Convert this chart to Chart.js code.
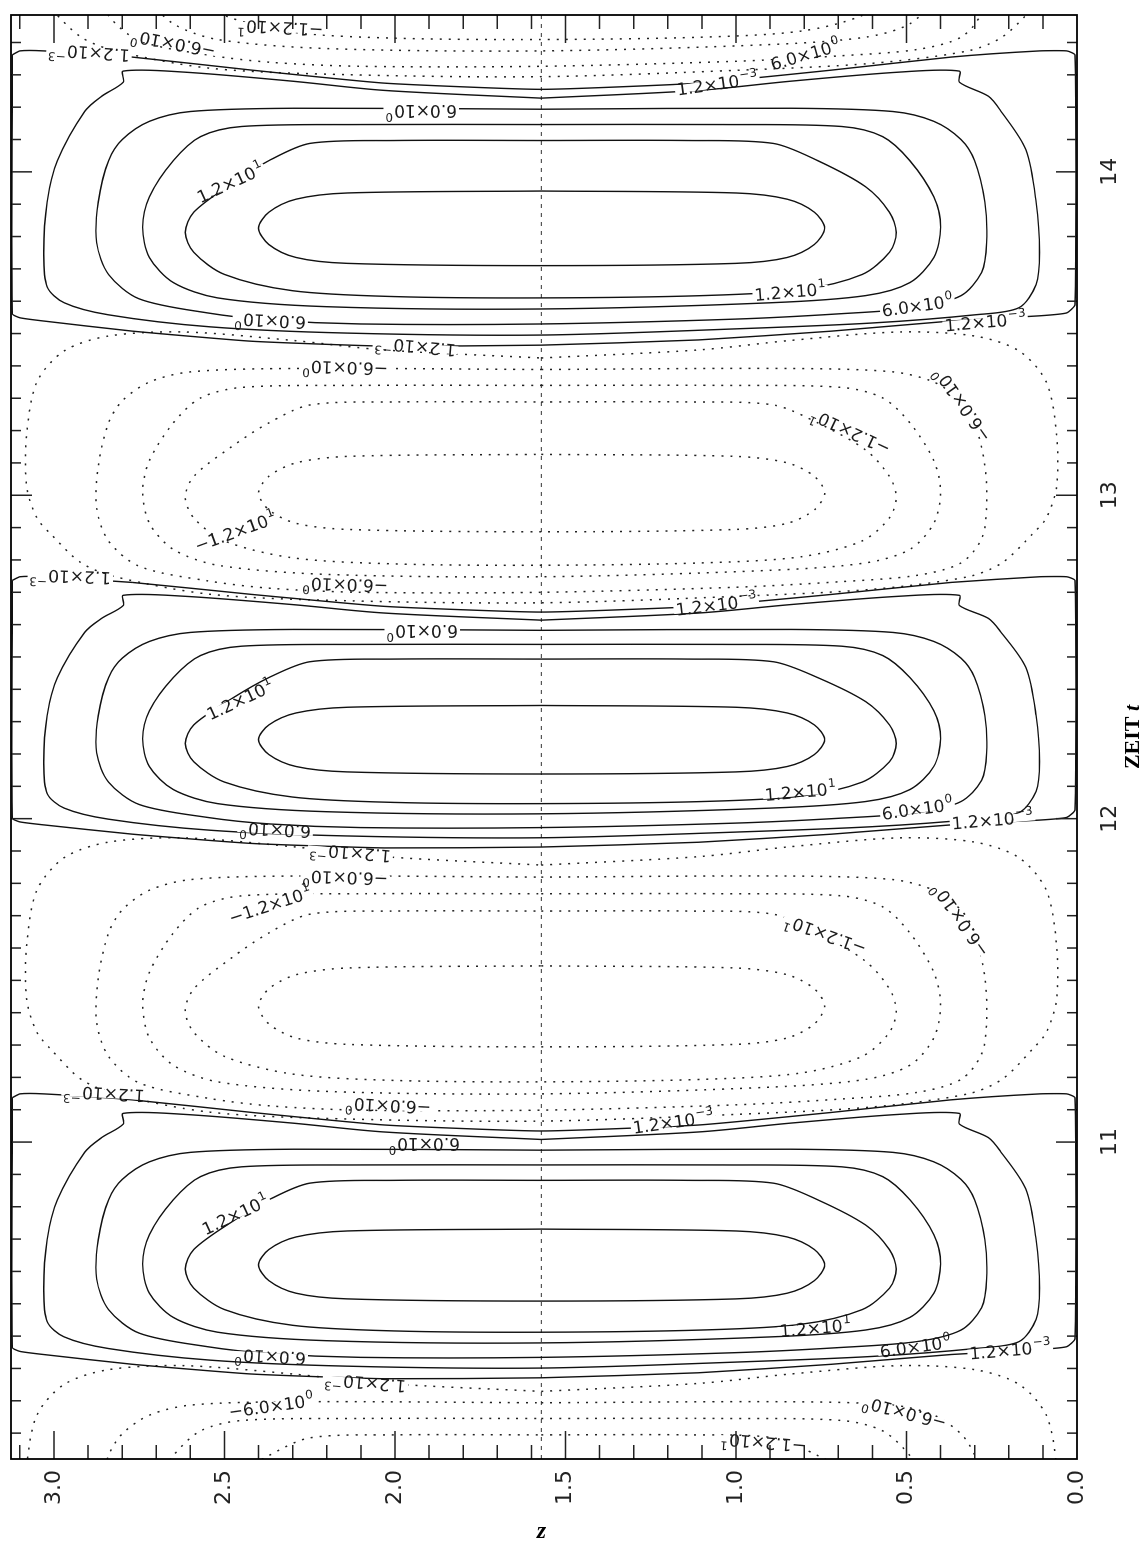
<!DOCTYPE html>
<html>
<head>
<meta charset="utf-8">
<script src="https://cdn.jsdelivr.net/npm/chart.js@4.4.1/dist/chart.umd.min.js"></script>
<style>
  html, body { margin: 0; padding: 0; background: #fff; overflow: hidden; }
  body { width: 1148px; height: 1544px; position: relative; }
  /* the plot is drawn as an ordinary t / z chart and turned a quarter turn, like the printed page */
  #plot { position: absolute; left: 0; top: 0; width: 1544px; height: 1148px;
          transform-origin: 0 0; transform: translate(0, 1544px) rotate(-90deg); }
</style>
</head>
<body>
<div id="plot"><canvas id="chart" width="1544" height="1148"></canvas></div>
<script>
/* ============ data ============ */
var tRange = [10.02, 14.485];
var zRange = [0, 3.126];
var tMajorTicks = [11, 12, 13, 14];
var zMajorTicks = [0, 0.5, 1.0, 1.5, 2.0, 2.5, 3.0];
var zMid = 1.5708;

// t at the upper and lower frame corners of each positive (solid) and negative (dotted) cell
var solidCellTop = [14.374, 12.748, 11.149];
var solidCellBottom = [13.576, 12.015, 10.379];
var dottedCellTop = [15.194, 13.576, 12.015, 10.379];
var dottedCellBottom = [14.374, 12.748, 11.149, 9.560];
var cellSpan = 0.792; // corner-to-corner height the ring tables below are read at

// contour rings of one cell as [z, distance in t below the upper corner]
var ring0 = [[3.122,0.012],[3.10,0],[3.03,0],[2.77,0.019],[2.42,0.059],[2.03,0.099],[1.571,0.118],[1.11,0.099],[0.72,0.059],[0.37,0.019],[0.11,0],[0.03,0],[0.006,0.012],[0.006,0.779],[0.03,0.804],[0.11,0.813],[0.37,0.829],[0.72,0.860],[1.11,0.887],[1.571,0.903],[2.03,0.906],[2.42,0.891],[2.77,0.860],[3.03,0.829],[3.10,0.819],[3.122,0.807],[3.122,0.012]];
var ring1 = [[1.571,0.145],[1.108,0.121],[0.84,0.093],[0.52,0.065],[0.345,0.062],[0.345,0.096],[0.26,0.139],[0.225,0.182],[0.15,0.303],[0.12,0.464],[0.11,0.618],[0.12,0.717],[0.17,0.788],[0.30,0.810],[0.60,0.835],[1.0,0.853],[1.571,0.872],[2.14,0.866],[2.54,0.847],[2.84,0.810],[2.97,0.773],[3.02,0.724],[3.03,0.618],[3.02,0.464],[2.99,0.337],[2.91,0.186],[2.86,0.139],[2.797,0.096],[2.797,0.062],[2.62,0.065],[2.30,0.093],[2.034,0.121],[1.571,0.145]];
var ring2 = [[1.571,0.179],[0.84,0.176],[0.54,0.186],[0.42,0.216],[0.34,0.272],[0.30,0.337],[0.27,0.464],[0.265,0.588],[0.28,0.680],[0.34,0.751],[0.47,0.788],[0.70,0.807],[1.0,0.823],[1.571,0.838],[2.1,0.838],[2.366,0.826],[2.55,0.804],[2.75,0.761],[2.84,0.686],[2.875,0.588],[2.87,0.464],[2.84,0.337],[2.80,0.272],[2.72,0.216],[2.60,0.186],[2.30,0.176],[1.571,0.179]];
var ring3 = [[1.571,0.226],[1.04,0.226],[0.69,0.232],[0.57,0.263],[0.49,0.337],[0.42,0.448],[0.40,0.541],[0.42,0.634],[0.49,0.711],[0.62,0.751],[0.9,0.773],[1.571,0.792],[2.2,0.785],[2.52,0.758],[2.65,0.711],[2.72,0.634],[2.74,0.541],[2.72,0.448],[2.65,0.337],[2.57,0.263],[2.45,0.232],[2.1,0.226],[1.571,0.226]];
var ring4 = [[1.571,0.275],[1.14,0.275],[0.89,0.284],[0.76,0.337],[0.62,0.417],[0.55,0.495],[0.53,0.557],[0.55,0.618],[0.63,0.686],[0.81,0.733],[1.1,0.751],[1.571,0.758],[2.0,0.754],[2.3,0.736],[2.5,0.686],[2.59,0.618],[2.615,0.557],[2.59,0.495],[2.48,0.408],[2.37,0.337],[2.25,0.284],[2.0,0.275],[1.571,0.275]];
var ring5 = [[1.571,0.430],[1.0,0.436],[0.85,0.455],[0.77,0.495],[0.74,0.544],[0.77,0.594],[0.85,0.634],[1.0,0.652],[1.571,0.659],[2.14,0.652],[2.29,0.634],[2.37,0.594],[2.40,0.544],[2.37,0.495],[2.29,0.455],[2.14,0.436],[1.571,0.430]];
var dotRing1 = [[1.571,0.145],[1.108,0.121],[0.84,0.093],[0.52,0.068],[0.30,0.080],[0.17,0.124],[0.09,0.216],[0.06,0.371],[0.06,0.526],[0.09,0.618],[0.13,0.665],[0.22,0.751],[0.32,0.792],[0.60,0.829],[1.0,0.850],[1.571,0.869],[2.14,0.863],[2.54,0.844],[2.82,0.792],[2.92,0.751],[3.01,0.665],[3.05,0.618],[3.08,0.526],[3.08,0.371],[3.05,0.216],[2.97,0.124],[2.84,0.080],[2.62,0.068],[2.30,0.093],[2.034,0.121],[1.571,0.145]];

// contour labels: text (^ starts the exponent), position and reading angle on the page
var labelText = ['−1.2×10^1','−6.0×10^0','1.2×10^−3','1.2×10^−3','6.0×10^0','6.0×10^0','1.2×10^1','1.2×10^1','6.0×10^0','1.2×10^−3',
  '6.0×10^0','1.2×10^−3','−6.0×10^0','−1.2×10^1','−6.0×10^0','−1.2×10^1','−6.0×10^0','1.2×10^−3','6.0×10^0','1.2×10^−3',
  '1.2×10^1','1.2×10^1','6.0×10^0','1.2×10^−3','6.0×10^0','1.2×10^−3','−6.0×10^0','−1.2×10^1','−1.2×10^1','−6.0×10^0',
  '1.2×10^−3','−6.0×10^0','6.0×10^0','1.2×10^−3','1.2×10^1','1.2×10^1','6.0×10^0','1.2×10^−3','6.0×10^0','1.2×10^−3',
  '−6.0×10^0','−6.0×10^0','−1.2×10^1'];
var labelZ = [2.336,2.650,2.897,1.055,0.797,1.923,2.483,0.841,0.468,0.269,
  2.366,1.940,2.146,0.665,0.336,2.468,2.146,2.952,1.920,1.058,
  2.454,0.811,0.468,0.248,2.351,2.131,2.146,2.366,0.738,0.342,
  2.853,2.020,1.914,1.184,2.468,0.767,0.474,0.196,2.366,2.087,
  2.363,0.506,0.920];
var labelT = [14.445,14.396,14.368,14.272,14.362,14.189,13.966,13.629,13.586,13.536,
  13.539,13.459,13.394,13.196,13.280,12.887,12.723,12.748,12.581,12.661,
  12.367,12.083,12.030,11.996,11.965,11.894,11.817,11.733,11.641,11.687,
  11.149,11.112,10.994,11.062,10.775,10.425,10.367,10.357,10.336,10.255,
  10.184,10.163,10.070];
var labelAngle = [183,191,184,-8,-16,180,-25,-5,-8,-5,
  183,185,182,205,235,-20,182,182,180,-7,
  -25,-5,-8,-5,183,185,182,-18,200,235,
  183,183,180,-8,-25,-5,-8,-5,183,185,
  -8,195,185];

/* ============ datasets ============ */
function cellPoints(ring, tTop, tBottom) {
  var k = (tTop - tBottom) / cellSpan;
  return ring.map(function (p) { return { x: tTop - p[1] * k, y: p[0] }; });
}

var datasets = [];
var solidRings = [ring0, ring1, ring2, ring3, ring4, ring5];
var dottedRings = [dotRing1, ring2, ring3, ring4, ring5];

solidCellTop.forEach(function (tTop, c) {
  solidRings.forEach(function (ring, i) {
    datasets.push({
      data: cellPoints(ring, tTop, solidCellBottom[c]), showLine: true, borderColor: '#111', borderWidth: 1.4,
      pointRadius: 0, tension: i === 0 ? 0.15 : 0.3, fill: false
    });
  });
});
dottedCellTop.forEach(function (tTop, c) {
  dottedRings.forEach(function (ring) {
    datasets.push({
      data: cellPoints(ring, tTop, dottedCellBottom[c]), showLine: true, borderColor: '#222', borderWidth: 1.5,
      borderDash: [2, 7], pointRadius: 0, tension: 0.3, fill: false
    });
  });
});
datasets.push({
  data: [{ x: tRange[0], y: zMid }, { x: tRange[1], y: zMid }], showLine: true,
  borderColor: '#333', borderWidth: 1, borderDash: [4, 5], pointRadius: 0
});

/* ============ frame, inward ticks, labels, titles ============ */
var FONT = '"DejaVu Sans", sans-serif';

function drawLabel(ctx, text, px, py, angle) {
  var parts = text.split('^');
  ctx.save();
  ctx.translate(px, py);
  ctx.rotate((angle + 90) * Math.PI / 180);   // +90 undoes the page turn
  ctx.font = '17px ' + FONT;
  var w1 = ctx.measureText(parts[0]).width;
  ctx.font = '12px ' + FONT;
  var w2 = parts[1] ? ctx.measureText(parts[1]).width : 0;
  var w = w1 + w2 + 1;
  ctx.fillStyle = '#fff';
  ctx.fillRect(-w / 2 - 2, -4, w + 4, 8);
  ctx.fillStyle = '#1a1a1a';
  ctx.textBaseline = 'alphabetic';
  ctx.font = '17px ' + FONT;
  ctx.fillText(parts[0], -w / 2, 6);
  if (parts[1]) {
    ctx.font = '12px ' + FONT;
    ctx.fillText(parts[1], -w / 2 + w1 + 1, -2);
  }
  ctx.restore();
}

var decorPlugin = {
  id: 'decor',
  afterDatasetsDraw: function (chart) {
    var ctx = chart.ctx, xs = chart.scales.x, ys = chart.scales.y, a = chart.chartArea;
    ctx.save();
    ctx.beginPath();
    ctx.rect(a.left, a.top, a.right - a.left, a.bottom - a.top);
    ctx.clip();
    for (var i = 0; i < labelText.length; i++) {
      drawLabel(ctx, labelText[i], xs.getPixelForValue(labelT[i]), ys.getPixelForValue(labelZ[i]), labelAngle[i]);
    }
    ctx.restore();
  },
  afterDraw: function (chart) {
    var ctx = chart.ctx, xs = chart.scales.x, ys = chart.scales.y, a = chart.chartArea;
    ctx.save();
    ctx.strokeStyle = '#222';
    ctx.lineWidth = 1.5;
    // time ticks, on both long sides
    for (var k = Math.ceil(tRange[0] * 10); k <= Math.floor(tRange[1] * 10); k++) {
      var px = xs.getPixelForValue(k / 10);
      var len = (k % 10 === 0) ? 21 : 10;
      ctx.beginPath();
      ctx.moveTo(px, a.bottom); ctx.lineTo(px, a.bottom - len);
      ctx.moveTo(px, a.top); ctx.lineTo(px, a.top + len);
      ctx.stroke();
    }
    // z ticks, on both short sides
    for (var m = 1; m <= Math.floor(zRange[1] * 10); m++) {
      var py = ys.getPixelForValue(m / 10);
      var zl = (m % 5 === 0) ? 28 : 14;
      ctx.beginPath();
      ctx.moveTo(a.left, py); ctx.lineTo(a.left + zl, py);
      ctx.moveTo(a.right, py); ctx.lineTo(a.right - zl, py);
      ctx.stroke();
    }
    ctx.strokeStyle = '#000';
    ctx.lineWidth = 1.8;
    ctx.strokeRect(a.left, a.top, a.right - a.left, a.bottom - a.top);

    // axis titles
    ctx.fillStyle = '#000';
    ctx.textBaseline = 'middle';
    ctx.font = 'bold 22px "Liberation Serif", serif';
    var w1 = ctx.measureText('ZEIT ').width;
    ctx.font = 'bold italic 22px "Liberation Serif", serif';
    var w2 = ctx.measureText('t').width;
    var cx = (a.left + a.right) / 2 - (w1 + w2) / 2;
    ctx.font = 'bold 22px "Liberation Serif", serif';
    ctx.fillText('ZEIT ', cx, 1133);
    ctx.font = 'bold italic 22px "Liberation Serif", serif';
    ctx.fillText('t', cx + w1, 1133);

    ctx.save();
    ctx.translate(12, ys.getPixelForValue(zMid));
    ctx.rotate(Math.PI / 2);
    ctx.textAlign = 'center';
    ctx.font = 'bold italic 24px "Liberation Serif", serif';
    ctx.fillText('z', 0, 0);
    ctx.restore();
    ctx.restore();
  }
};

/* ============ chart ============ */
new Chart(document.getElementById('chart'), {
  type: 'scatter',
  data: { datasets: datasets },
  options: {
    responsive: false, animation: false, devicePixelRatio: 1,
    layout: { padding: { top: 11, right: 15, left: 0, bottom: 0 } },
    plugins: { legend: { display: false }, tooltip: { enabled: false } },
    scales: {
      x: {
        type: 'linear', min: tRange[0], max: tRange[1],
        afterBuildTicks: function (s) { s.ticks = tMajorTicks.map(function (v) { return { value: v }; }); },
        afterFit: function (s) { s.height = 71; s.paddingLeft = 0; s.paddingRight = 0; },
        grid: { display: false, drawTicks: false }, border: { display: false },
        ticks: { padding: 20, autoSkip: false, maxRotation: 0, color: '#222',
                 font: { family: 'DejaVu Sans', size: 22 }, callback: function (v) { return String(v); } }
      },
      y: {
        type: 'linear', min: zRange[0], max: zRange[1],
        afterBuildTicks: function (s) { s.ticks = zMajorTicks.map(function (v) { return { value: v }; }); },
        afterFit: function (s) { s.width = 85; s.paddingTop = 0; s.paddingBottom = 0; },
        grid: { display: false, drawTicks: false }, border: { display: false },
        ticks: { padding: 11, autoSkip: false, color: '#222',
                 font: { family: 'DejaVu Sans', size: 22 }, callback: function (v) { return v.toFixed(1); } }
      }
    }
  },
  plugins: [decorPlugin]
});
</script>
</body>
</html>
